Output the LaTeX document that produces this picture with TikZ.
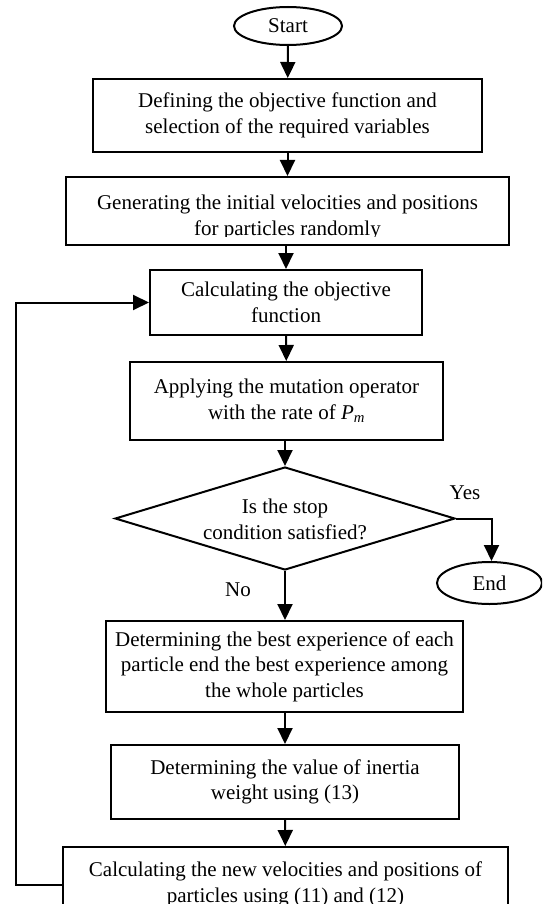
\documentclass[tikz,border=0pt]{standalone}
\usepackage{fontspec}
\setmainfont{Liberation Serif}
\usetikzlibrary{shapes.geometric,arrows.meta}
\begin{document}
\begin{tikzpicture}[x=1pt,y=-1pt,
  every node/.style={font=\fontsize{21}{25.5}\selectfont, align=center, inner sep=0pt},
  box/.style={draw, line width=2pt, rectangle},
  oval/.style={draw, line width=2pt, ellipse},
  arr/.style={-{Triangle[length=16pt,width=15pt]}, line width=2pt},
  ln/.style={line width=2pt}]
\useasboundingbox (0,0) rectangle (542,904);
\fill[white] (0,0) rectangle (542,904);
\clip (0,0) rectangle (542,904);

\node[oval, minimum width=108pt, minimum height=38pt] (st) at (288,26) {Start};
\node[box, minimum width=389pt, minimum height=73pt] (b1) at (287.5,115.5) {Defining the objective function and\\selection of the required variables};
\node[box, minimum width=443pt, minimum height=68pt] (b2) at (287.5,211) {};
\begin{scope}
\clip (66,177) rectangle (509,236);
\node (b2t) at (287.5,217.5) {Generating the initial velocities and positions\\for particles randomly};
\end{scope}
\node[box, minimum width=272pt, minimum height=65pt] (b3) at (286,302.5) {Calculating the objective\\function};
\node[box, minimum width=313pt, minimum height=78pt] (b4) at (286.5,401) {Applying the mutation operator\\with the rate of \textit{P\textsubscript{m}}};
\node[draw, diamond, line width=2pt, minimum width=340pt, minimum height=103pt] (dia) at (285,518.5) {};
\node (diat) at (285,519.5) {Is the stop\\condition satisfied?};
\node[oval, minimum width=105pt, minimum height=42pt] (en) at (489.5,583) {End};
\node[box, minimum width=357pt, minimum height=91pt] (b5) at (284.5,666.5) {Determining the best experience of each\\particle end the best experience among\\the whole particles};
\node[box, minimum width=348pt, minimum height=74pt] (b6) at (285,782) {Determining the value of inertia\\weight using (13)};
\node[box, minimum width=445pt, minimum height=75pt] (b7) at (285.5,884.5) {Calculating the new velocities and positions of\\particles using (11) and (12)};

\node (yes) at (465,493) {Yes};
\node (no) at (238,590) {No};
\coordinate (yc) at (491.5,518.5);
\coordinate (lb) at (16,884.5);
\coordinate (lt) at (16,302.5);

\draw[arr] (st) -- (b1);
\draw[arr] (b1) -- (b2);
\draw[arr] (b2.south -| b3) -- (b3);
\draw[arr] (b3) -- (b4);
\draw[arr] (b4.south -| dia) -- (dia.north);
\draw[arr] (dia.south) -- (b5.north -| dia.south);
\draw[arr] (b5.south -| b6) -- (b6);
\draw[arr] (b6) -- (b7);
\draw[arr] (dia.east) -- (yc) -- (en.north -| yc);
\draw[arr] (b7.west) -- (lb) -- (lt) -- (b3.west);
\end{tikzpicture}
\end{document}
